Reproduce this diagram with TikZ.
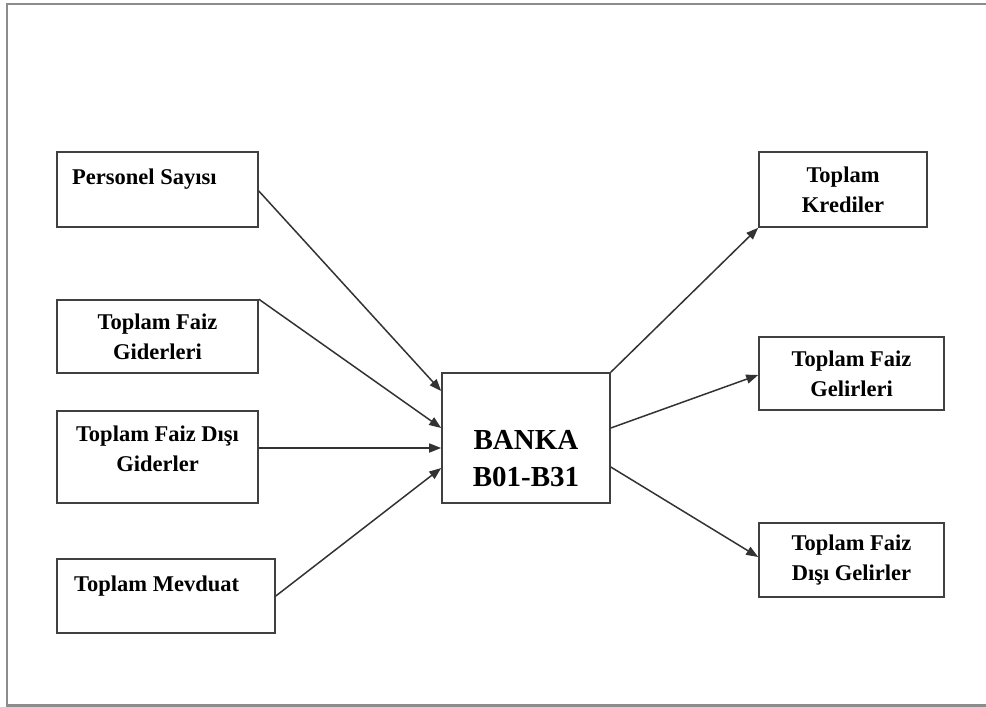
\documentclass[tikz,border=0pt]{standalone}
\usepackage{fontspec}
\setmainfont{Liberation Serif}
\usetikzlibrary{arrows.meta}
\begin{document}
\begin{tikzpicture}[x=1pt,y=-1pt,
  box/.style={draw=black!75, line width=1.6pt, inner sep=0pt, align=center,
    font=\bfseries\fontsize{22.5}{30}\selectfont},
  txt/.style={inner sep=0pt, align=center, font=\bfseries\fontsize{22.5}{30}\selectfont},
  bigtxt/.style={inner sep=0pt, align=center, font=\bfseries\fontsize{29}{37}\selectfont},
  conn/.style={draw=black!80, line width=1.5pt, -{Triangle[length=12pt,width=9pt]}},
  frame/.style={draw=black!45, line width=2.5pt}]
\useasboundingbox (0,0) rectangle (986,707);
\draw[frame] (990,4) -- (7,4) -- (7,705.5) -- (990,705.5);

\node[box, minimum width=201pt, minimum height=75pt] (ps) at (157.5,189.5) {};
\node[txt, anchor=base west] (pst) at (72,184) {Personel Sayısı};
\node[box, minimum width=201pt, minimum height=73pt] (fg) at (157.5,336.5) {Toplam Faiz\\Giderleri};
\node[box, minimum width=201pt, minimum height=92pt] (dg) at (157.5,457) {};
\node[txt] (dgt) at (157.5,449) {Toplam Faiz Dışı\\Giderler};
\node[box, minimum width=218pt, minimum height=74pt] (mv) at (166,596) {};
\node[txt, anchor=base west] (mvt) at (74,591) {Toplam Mevduat};

\node[box, minimum width=168pt, minimum height=130pt] (bk) at (526,438) {};
\node[bigtxt] (bkt) at (526,459) {BANKA\\B01-B31};

\node[box, minimum width=168pt, minimum height=75pt] (kr) at (843,189.5) {Toplam\\Krediler};
\node[box, minimum width=185pt, minimum height=73pt] (fl) at (851.5,373.5) {Toplam Faiz\\Gelirleri};
\node[box, minimum width=185pt, minimum height=74pt] (dl) at (851.5,560) {Toplam Faiz\\Dışı Gelirler};

\draw[conn] ([yshift=-1.5pt]ps.east) -- ([yshift=47pt]bk.west);
\draw[conn] (fg.north east) -- ([yshift=10pt]bk.west);
\draw[conn] ([yshift=9pt]dg.east) -- ([yshift=-10pt]bk.west);
\draw[conn] (mv.east) -- ([yshift=-30pt]bk.west);
\draw[conn] (bk.north east) -- (kr.south west);
\draw[conn] ([yshift=10pt]bk.east) -- ([yshift=-1.5pt]fl.west);
\draw[conn] ([yshift=-29pt]bk.east) -- ([yshift=3pt]dl.west);
\end{tikzpicture}
\end{document}
